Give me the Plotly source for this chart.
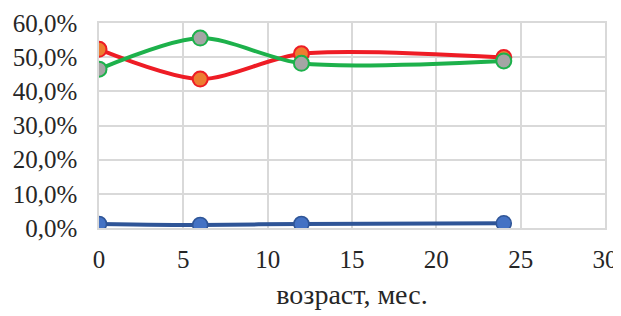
import plotly.graph_objects as go

age = [0, 6, 12, 24]
blue_vals = [1.2, 0.9, 1.2, 1.4]
red_vals = [52.3, 43.6, 51.0, 49.9]
green_vals = [46.5, 55.6, 48.2, 48.9]
x_ticks = [0, 5, 10, 15, 20, 25, 30]
y_ticks = [0, 10, 20, 30, 40, 50, 60]
y_tick_labels = ["0,0%", "10,0%", "20,0%", "30,0%", "40,0%", "50,0%", "60,0%"]

fig = go.Figure()
fig.add_trace(go.Scatter(x=age, y=blue_vals, mode="lines+markers",
                         line=dict(color="#2F5597", width=4, shape="spline", smoothing=0.8),
                         marker=dict(size=15, color="#4472C4", line=dict(color="#2F5597", width=1.5))))
fig.add_trace(go.Scatter(x=age, y=red_vals, mode="lines+markers",
                         line=dict(color="#EE1C25", width=4, shape="spline", smoothing=0.8),
                         marker=dict(size=15, color="#ED7D31", line=dict(color="#EE1C25", width=2))))
fig.add_trace(go.Scatter(x=age, y=green_vals, mode="lines+markers",
                         line=dict(color="#1DB14B", width=4, shape="spline", smoothing=0.8),
                         marker=dict(size=15, color="#A5A5A5", line=dict(color="#1DB14B", width=2))))

fam = "Liberation Serif"
tf = dict(family=fam, size=25, color="#262626")
title_font = dict(family=fam, size=28, color="#262626")
fig.update_layout(
    width=613, height=308,
    margin=dict(l=91, r=16, t=15, b=88, autoexpand=False),
    paper_bgcolor="white", plot_bgcolor="white",
    showlegend=False,
    font=tf,
    xaxis=dict(range=[0, 30], tickvals=x_ticks, showgrid=True, gridcolor="#D9D9D9", gridwidth=1.5,
               zeroline=False, showline=True, linecolor="#D9D9D9", linewidth=1.5, mirror=True,
               ticks="", tickfont=tf, ticklabelstandoff=8,
               automargin=False,
               title=dict(text="возраст, мес.", font=title_font, standoff=13)),
    yaxis=dict(range=[0, 60], tickvals=y_ticks, ticktext=y_tick_labels,
               showgrid=True, gridcolor="#D9D9D9", gridwidth=1.5, automargin=False,
               zeroline=False, showline=True, linecolor="#D9D9D9", linewidth=1.5, mirror=True,
               ticks="", tickfont=tf, ticklabelstandoff=15),
)
fig.write_html("out.html")
